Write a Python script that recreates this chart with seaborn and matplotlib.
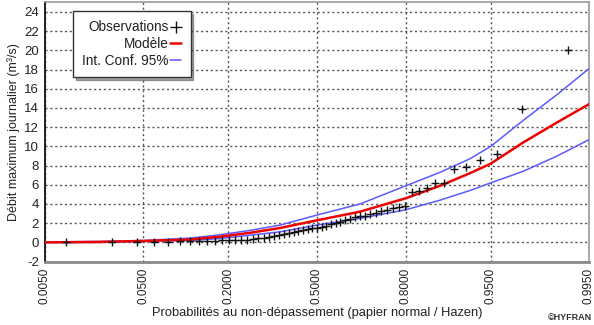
import matplotlib
matplotlib.use("Agg")
import matplotlib.pyplot as plt
import seaborn as sns
import numpy as np
from statistics import NormalDist
from matplotlib.lines import Line2D

# ---- data ----
tick_probs = [0.005, 0.05, 0.2, 0.5, 0.8, 0.95, 0.995]
tick_labels = ["0.0050", "0.0500", "0.2000", "0.5000", "0.8000", "0.9500", "0.9950"]

obs_values = [0.0, 0.0, 0.05, 0.05, 0.05, 0.1, 0.1, 0.1, 0.1, 0.15,
              0.2, 0.2, 0.2, 0.25, 0.3, 0.35, 0.45, 0.5, 0.6, 0.7,
              0.8, 0.9, 1.0, 1.05, 1.15, 1.25, 1.35, 1.45, 1.55, 1.65,
              1.75, 1.9, 2.0, 2.1, 2.3, 2.45, 2.6, 2.7, 2.8, 2.95,
              3.1, 3.25, 3.4, 3.6, 3.7, 3.8, 5.3, 5.4, 5.7, 6.2,
              6.2, 7.6, 7.9, 8.6, 9.2, 13.9, 20.0]

model_probs = [0.005, 0.02, 0.05, 0.115, 0.18, 0.263, 0.363, 0.5, 0.658,
               0.8, 0.878, 0.926, 0.95, 0.9745, 0.9885, 0.995]
model_q = [0.0, 0.05, 0.15, 0.3, 0.6, 1.0, 1.5, 2.3, 3.2,
           4.6, 5.9, 7.2, 8.2, 10.4, 12.5, 14.4]
upper_q = [0.05, 0.1, 0.2, 0.45, 0.8, 1.25, 1.8, 2.85, 4.0,
           5.9, 7.3, 8.7, 10.0, 12.7, 15.4, 18.1]
lower_q = [0.0, 0.0, 0.1, 0.2, 0.4, 0.75, 1.1, 1.8, 2.5,
           3.4, 4.4, 5.4, 6.2, 7.4, 9.0, 10.7]

# ---- helpers ----
nd = NormalDist()
def z(p):
    return [nd.inv_cdf(v) for v in p]

n = len(obs_values)
obs_probs = [(i - 0.5) / n for i in range(1, n + 1)]  # Hazen

sns.set_style("white")
plt.rcParams['font.family'] = ['Liberation Sans', 'DejaVu Sans']

fig = plt.figure(figsize=(5.94, 3.25), dpi=100)
ax = fig.add_axes([45/594, 1 - 261.6/325, (589-45)/594, (261.6-2.4)/325])

blue = "#5a5aff"
red = "#ee0000"
sns.lineplot(x=z(model_probs), y=lower_q, ax=ax, color=blue, lw=1.1, zorder=3)
sns.lineplot(x=z(model_probs), y=upper_q, ax=ax, color=blue, lw=1.1, zorder=3)
sns.lineplot(x=z(model_probs), y=model_q, ax=ax, color=red, lw=1.8, zorder=4)
sns.scatterplot(x=z(obs_probs), y=obs_values, ax=ax, marker="+", s=40,
                color="#111111", linewidth=1.0, zorder=5)

ax.set_xlim(nd.inv_cdf(0.005), nd.inv_cdf(0.995))
ax.set_ylim(-2, 25)
ax.set_xticks(z(tick_probs))
ax.set_xticklabels(tick_labels, rotation=90, fontsize=8.5, color="#222222")
ax.set_yticks(list(range(-2, 25, 2)))
ax.set_yticklabels([str(v) for v in range(-2, 25, 2)], fontsize=9.5, color="#222222")

ax.grid(True, which="major", color="#555555", linestyle=(0, (1.5, 2)), lw=1.0)
ax.tick_params(axis="both", direction="inout", length=5, width=1, color="#333333", pad=2)

for s in ["top", "right"]:
    ax.spines[s].set_color("#999999")
    ax.spines[s].set_linewidth(1.2)
ax.spines["left"].set_color("#111111")
ax.spines["left"].set_linewidth(1.3)
ax.spines["bottom"].set_color("#888888")
ax.spines["bottom"].set_linewidth(2.0)

ax.set_xlabel("Probabilités au non-dépassement (papier normal / Hazen)", fontsize=9.3,
              color="#222222", labelpad=2)
ax.set_ylabel("Débit maximum journalier (m³/s)", fontsize=9, color="#222222", labelpad=3)

handles = [Line2D([], [], color="#111111", marker="+", linestyle="", markersize=8),
           Line2D([], [], color=red, lw=1.8),
           Line2D([], [], color=blue, lw=1.1)]
leg = ax.legend(handles, ["Observations", "Modèle", "Int. Conf. 95%"],
                loc="upper left", bbox_to_anchor=(0.051, 0.967), markerfirst=False,
                fontsize=9.8, handlelength=0.8, handletextpad=0.1, frameon=True,
                fancybox=False, shadow=True, borderpad=0.7, labelspacing=0.2,
                borderaxespad=0)
leg.get_frame().set_edgecolor("#333333")
leg.get_frame().set_linewidth(1.0)
for t in leg.get_texts():
    t.set_color("#222222")
    t.set_ha("right")
leg.set_zorder(10)

fig.text(0.997, 0.01, "©HYFRAN", ha="right", va="bottom", fontsize=6.5,
         fontweight="bold", color="#333333")

fig.savefig("out.png", dpi=100)
